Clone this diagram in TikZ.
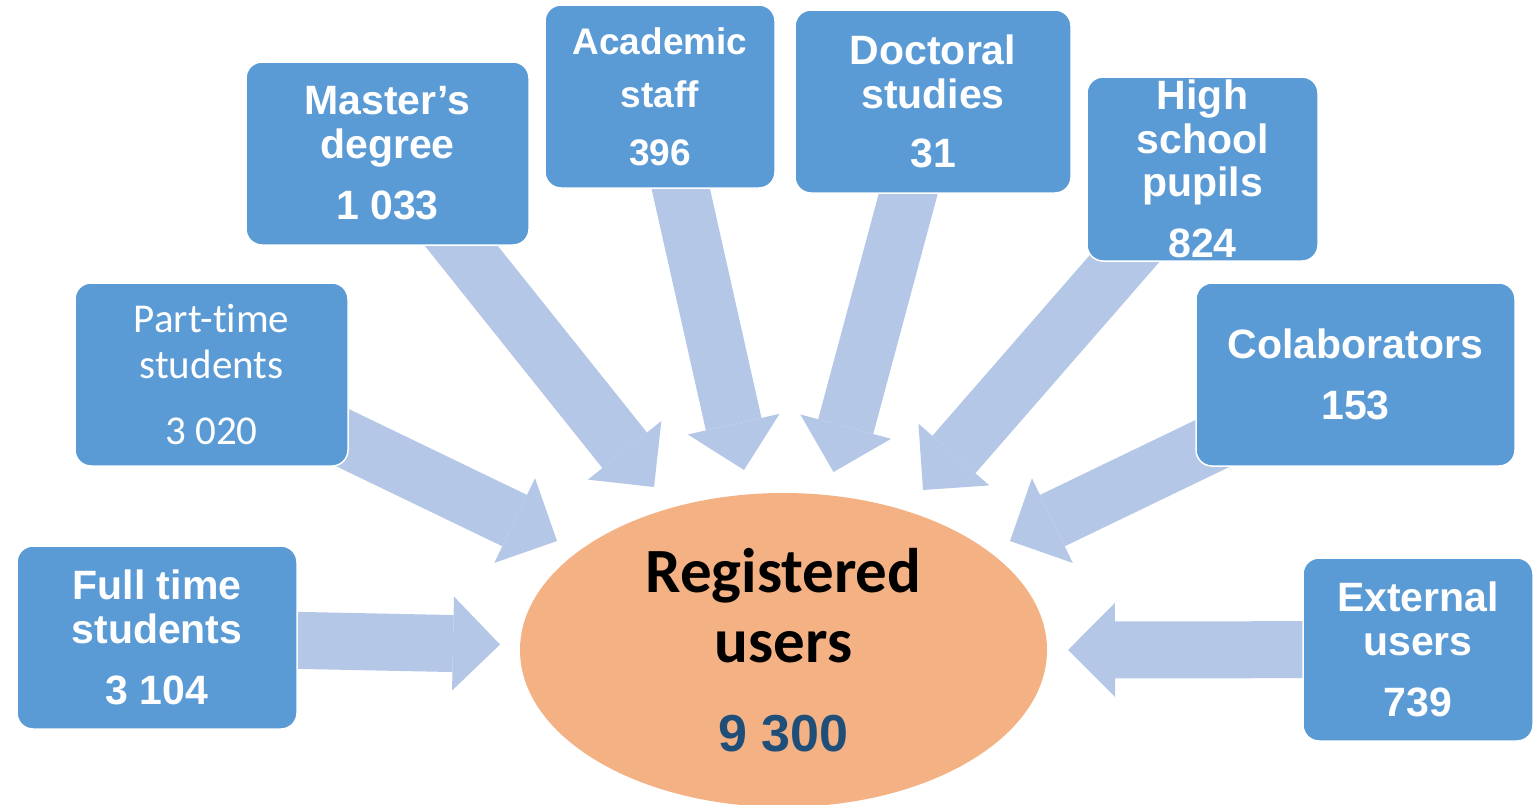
\documentclass[tikz,border=0pt]{standalone}
\usepackage{fontspec}
\setmainfont{Liberation Sans}
\newfontfamily\carlito[Ligatures=NoCommon]{Carlito}
\usetikzlibrary{arrows.meta,shapes.geometric}
\definecolor{boxblue}{HTML}{5B9BD5}
\definecolor{arrowblue}{HTML}{B4C7E7}
\definecolor{ellorange}{HTML}{F4B183}
\definecolor{numblue}{HTML}{1F4E79}
\pgfdeclarelayer{bg}
\pgfsetlayers{bg,main}
\begin{document}
\begin{tikzpicture}[x=1pt,y=-1pt,
  box/.style={rectangle, rounded corners=16pt, fill=boxblue, draw=white, line width=1.5pt,
    text=white, align=center, inner sep=0pt, font=\fontsize{41}{43.5}\selectfont\bfseries},
  bigarrow/.style={draw=arrowblue, line width=57pt, -{Triangle[length=47pt,width=94pt,line width=0pt]}}]
\useasboundingbox (0,0) rectangle (1539,804);

% boxes
\node[box, minimum width=280pt, minimum height=183pt] (full) at (157,637.5) {Full time\\students\\[18pt]3 104};
\node[box, minimum width=273pt, minimum height=183pt, font=\fontsize{41}{46.3}\selectfont\carlito] (part) at (211.5,374.5) {Part-time\\students\\[19pt]3 020};
\node[box, minimum width=283pt, minimum height=183pt] (master) at (387.5,153.5) {Master’s\\degree\\[18pt]1 033};
\node[box, minimum width=230pt, minimum height=183pt, font=\fontsize{37}{53.3}\selectfont\bfseries] (acad) at (660,96.5) {Academic\\staff\\[4pt]396};
\node[box, minimum width=276pt, minimum height=183pt] (doct) at (933,101.5) {Doctoral\\studies\\[16pt]31};
\node[box, minimum width=231pt, minimum height=184pt] (high) at (1202.5,169) {High\\school\\pupils\\[17pt]824};
\node[box, minimum width=319pt, minimum height=183pt] (colab) at (1355.5,374.5) {Colaborators\\[17.5pt]153};
\node[box, minimum width=230pt, minimum height=183pt] (ext) at (1418,649.5) {External\\users\\[17.5pt]739};

% centre
\node[ellipse, fill=ellorange, minimum width=527pt, minimum height=314pt, inner sep=0pt, align=center,
  font=\fontsize{63}{70}\selectfont\carlito\bfseries] (reg) at (783.5,650)
  {Registered\\users\\[19pt]{\fontsize{52}{52}\selectfont\rmfamily\bfseries\color{numblue}9 300}};

% arrow tips
\coordinate (fullH) at (500,644.5);
\coordinate (partH) at (557,541);
\coordinate (masterH) at (654,487);
\coordinate (acadH) at (744,470);
\coordinate (doctH) at (833.5,472);
\coordinate (highH) at (923,490);
\coordinate (colabH) at (1010,541);
\coordinate (extH) at (1068,650);

\begin{pgfonlayer}{bg}
\fill[white] (0,0) rectangle (1539,804);
\draw[bigarrow] (full.center) -- (fullH);
\draw[bigarrow] (part.center) -- (partH);
\draw[bigarrow] (master.center) -- (masterH);
\draw[bigarrow] (acad.center) -- (acadH);
\draw[bigarrow] (doct.center) -- (doctH);
\draw[bigarrow] (high.center) -- (highH);
\draw[bigarrow] (colab.center) -- (colabH);
\draw[bigarrow] (ext.center) -- (extH);
\end{pgfonlayer}
\end{tikzpicture}
\end{document}
